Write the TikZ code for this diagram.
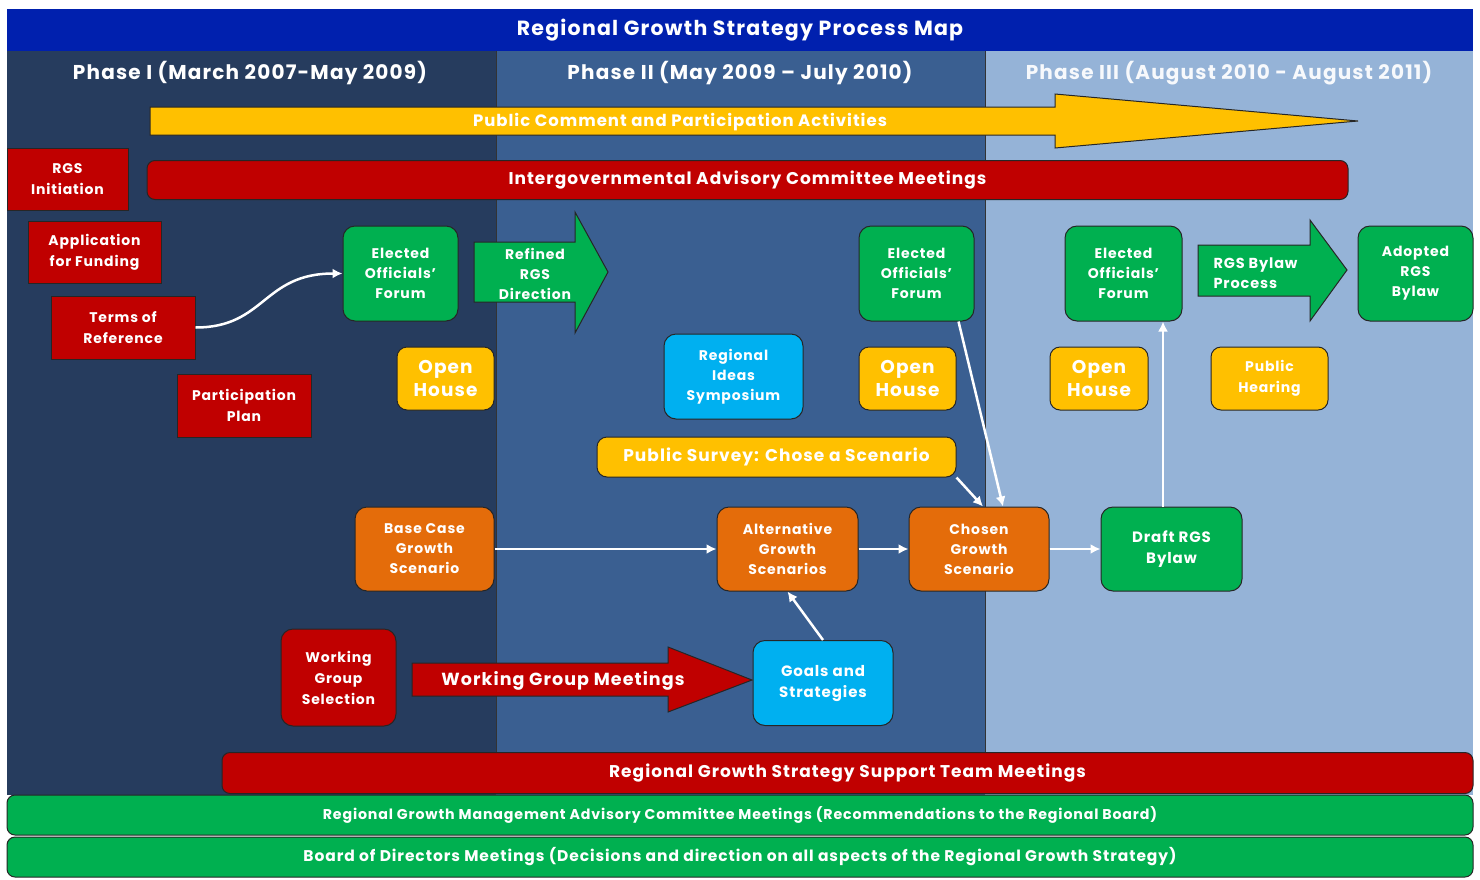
\documentclass[tikz,border=0pt]{standalone}
\usepackage{fontspec}
\setmainfont{Poppins}[LetterSpace=6]
\usetikzlibrary{arrows.meta}
\definecolor{titleblue}{HTML}{0020AE}
\definecolor{phaseone}{HTML}{263C5E}
\definecolor{phasetwo}{HTML}{3A5F91}
\definecolor{phasethree}{HTML}{95B3D7}
\definecolor{rgsred}{HTML}{C00000}
\definecolor{rgsgreen}{HTML}{00B050}
\definecolor{rgsyellow}{HTML}{FFC000}
\definecolor{rgsorange}{HTML}{E46C0A}
\definecolor{rgsblue}{HTML}{00B0F0}
\tikzset{
  box/.style={draw=black!85, line width=1pt, text=white, align=center,
    font=\bfseries\fontsize{14}{20}\selectfont, inner sep=0pt},
  size/.style 2 args={minimum width=#1, minimum height=#2},
  redbox/.style={box, fill=rgsred, font=\bfseries\fontsize{14}{21}\selectfont},
  greenbox/.style={box, fill=rgsgreen, rounded corners=12pt},
  yellowbox/.style={box, fill=rgsyellow, rounded corners=10pt},
  orangebox/.style={box, fill=rgsorange, rounded corners=12pt},
  bluebox/.style={box, fill=rgsblue, rounded corners=12pt},
  bar/.style={box, rounded corners=8pt, font=\bfseries\fontsize{17}{20}\selectfont},
  phasehead/.style={text=white, font=\bfseries\fontsize{20}{22}\selectfont},
  blockarrow/.style={draw=black!85, line width=1pt},
  flow/.style={draw=white, line width=2.5pt, -{Latex[length=10pt,width=10pt]}}
}
\begin{document}
\begin{tikzpicture}[x=1pt,y=-1pt]
    \useasboundingbox (0,0) rectangle (1480,879);
    \fill[white] (0,0) rectangle (1480,879);

    % Phase columns
    \fill[phaseone] (7,50) rectangle (496,795);
    \fill[phasetwo] (496,50) rectangle (985,795);
    \fill[phasethree] (985,50) rectangle (1473,795);
    \draw[black!80] (496,50) -- (496,752);
    \draw[black!80] (985,50) -- (985,752);

    % Title band
    \node[fill=titleblue, size={1466}{42}, text=white,
      font=\bfseries\fontsize{20.5}{22}\selectfont] (title) at (740,30) {Regional Growth Strategy Process Map};

    % Phase headers
    \node[phasehead] (ph1) at (250,73) {Phase I (March 2007-May 2009)};
    \node[phasehead] (ph2) at (740,73) {Phase II (May 2009 – July 2010)};
    \node[phasehead, text=white!92!phasethree] (ph3) at (1229,73) {Phase III (August 2010 - August 2011)};

    % Public comment arrow
    \filldraw[blockarrow, fill=rgsyellow] (150,107) -- (1055,107) -- (1055,94) -- (1358,121)
      -- (1055,148) -- (1055,135) -- (150,135) -- cycle;
    \node[text=white, font=\bfseries\fontsize{16.5}{20}\selectfont] (pcpa) at (680,122) {Public Comment and Participation Activities};

    % Long bars
    \node[bar, fill=rgsred, size={1201}{39}] (iacm) at (747.5,180) {Intergovernmental Advisory Committee Meetings};
    \node[bar, fill=rgsred, size={1251}{41}] (sptm) at (847.5,773) {Regional Growth Strategy Support Team Meetings};
    \node[bar, fill=rgsgreen, size={1466}{40}, font=\bfseries\fontsize{14.2}{16}\selectfont] (rgmac) at (740,815)
      {Regional Growth Management Advisory Committee Meetings (Recommendations to the Regional Board)};
    \node[bar, fill=rgsgreen, size={1466}{40}, font=\bfseries\fontsize{15.5}{16}\selectfont] (bod) at (740,857)
      {Board of Directors Meetings (Decisions and direction on all aspects of the Regional Growth Strategy)};

    % Phase I
    \node[redbox, size={121}{62}] (init) at (67.5,179) {RGS\\Initiation};
    \node[redbox, size={133}{62}] (fund) at (94.5,252) {Application\\for Funding};
    \node[redbox, size={144}{63}] (tor) at (123,327.5) {Terms of\\Reference};
    \node[redbox, size={134}{63}] (plan) at (244,405.5) {Participation\\Plan};
    \node[greenbox, size={115}{95}] (eof1) at (400.5,273.5) {Elected\\Officials’\\Forum};
    \node[yellowbox, size={97}{63}, font=\bfseries\fontsize{18.5}{23}\selectfont] (oh1) at (445.5,378.5) {Open\\House};
    \node[orangebox, size={139}{84}] (base) at (424.5,549) {Base Case\\Growth\\Scenario};
    \node[redbox, size={115}{97}, rounded corners=12pt] (wgs) at (338.5,677.5) {Working\\Group\\Selection};

    % Refined direction arrow
    \filldraw[blockarrow, fill=rgsgreen] (474,242) -- (575,242) -- (575,212) -- (608,272)
      -- (575,333) -- (575,302) -- (474,302) -- cycle;
    \node[text=white, align=center, font=\bfseries\fontsize{14}{20}\selectfont] (refined) at (535,274) {Refined\\RGS\\Direction};

    % Working group arrow
    \filldraw[blockarrow, fill=rgsred] (412,663) -- (668,663) -- (668,647) -- (752,680)
      -- (668,712) -- (668,696) -- (412,696) -- cycle;
    \node[text=white, font=\bfseries\fontsize{17.5}{20}\selectfont] (wgm) at (563,681) {Working Group Meetings};

    % Phase II
    \node[bluebox, size={139}{85}] (ideas) at (733.5,376.5) {Regional\\Ideas\\Symposium};
    \node[greenbox, size={115}{95}] (eof2) at (916.5,273.5) {Elected\\Officials’\\Forum};
    \node[yellowbox, size={97}{63}, font=\bfseries\fontsize{18.5}{23}\selectfont] (oh2) at (907.5,378.5) {Open\\House};
    \node[yellowbox, size={359}{40}, font=\bfseries\fontsize{17}{20}\selectfont] (survey) at (776.5,457) {Public Survey: Chose a Scenario};
    \node[orangebox, size={141}{84}] (alt) at (787.5,549) {Alternative\\Growth\\Scenarios};
    \node[orangebox, size={140}{84}] (chosen) at (979,549) {Chosen\\Growth\\Scenario};
    \node[bluebox, size={140}{85}, font=\bfseries\fontsize{15}{21}\selectfont] (goals) at (823,683) {Goals and\\Strategies};

    % Phase III
    \node[greenbox, size={117}{95}] (eof3) at (1123.5,273.5) {Elected\\Officials’\\Forum};
    \node[greenbox, size={115}{95}] (adopted) at (1415.5,273.5) {Adopted\\RGS\\Bylaw};
    \node[yellowbox, size={98}{63}, font=\bfseries\fontsize{18.5}{23}\selectfont] (oh3) at (1099,378.5) {Open\\House};
    \node[yellowbox, size={117}{63}, font=\bfseries\fontsize{14}{21}\selectfont] (hearing) at (1269.5,378.5) {Public\\Hearing};
    \node[greenbox, size={141}{84}, font=\bfseries\fontsize{15}{21}\selectfont] (draft) at (1171.5,549) {Draft RGS\\Bylaw};

    % Bylaw process arrow
    \filldraw[blockarrow, fill=rgsgreen] (1198,245) -- (1310,245) -- (1310,220) -- (1347,270)
      -- (1310,321) -- (1310,296) -- (1198,296) -- cycle;
    \node[text=white, align=left, anchor=west, font=\bfseries\fontsize{14.5}{20}\selectfont] (bylawproc) at (1210,273) {RGS Bylaw\\Process};

    % Connectors
    \draw[flow] (tor.east) .. controls +(70,0) and +(-80,0) .. (eof1.west);
    \draw[flow] (base.east) -- (alt.west);
    \draw[flow] (alt.east) -- (chosen.west);
    \draw[flow] (chosen.east) -- (draft.west);
    \draw[flow] ([xshift=-8.5pt]draft.north) -- ([xshift=-8.5pt]draft.north |- eof3.south);
    \draw[flow] (goals.north) -- (alt.south);
    \draw[flow] (eof2.south east) ++(-16,0) coordinate (eofout) (eofout) -- (chosen.north -| 1003,0);
    \draw[flow] (survey.south east) -- (chosen.north -| 983,0);
\end{tikzpicture}
\end{document}
